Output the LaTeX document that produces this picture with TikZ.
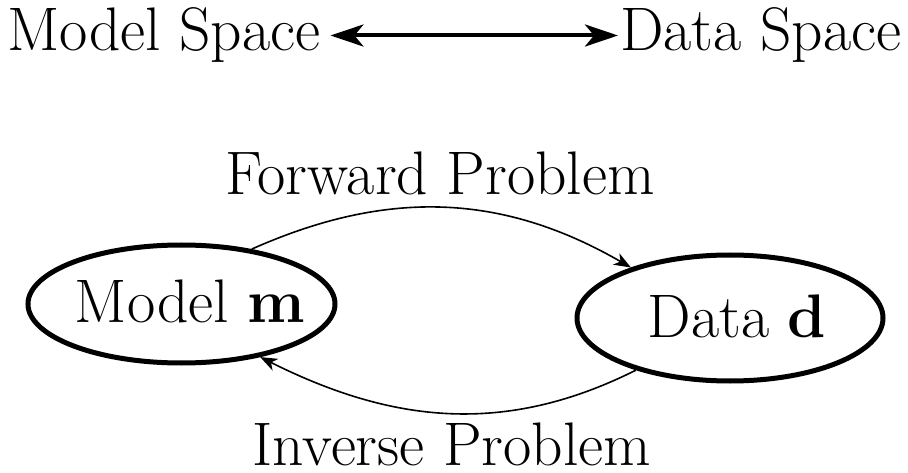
\documentclass[tikz,border=0pt]{standalone}
\usetikzlibrary{arrows.meta,shapes.geometric}
\begin{document}
\begin{tikzpicture}[x=1pt,y=1pt,
  txt/.style={font=\fontsize{61.5}{64}\selectfont, inner sep=0pt, outer sep=0pt},
  bubble/.style={draw, ellipse, line width=5pt, inner sep=0pt},
  flow/.style={line width=1.6pt, -{Stealth[length=17pt,width=13pt,inset=5pt]}},
  dual/.style={line width=4pt, {Stealth[length=33pt,width=22pt,inset=9pt]}-{Stealth[length=33pt,width=22pt,inset=9pt]}}]
\useasboundingbox (0,0) rectangle (908,472);
\node[txt, anchor=base west] (ms) at (7,421) {Model Space};
\node[txt, anchor=base west] (ds) at (620,421) {Data Space};
\draw[dual, shorten <=10pt, shorten >=2pt] (ms.east) -- (ds.west);
\node[bubble, minimum width=307pt, minimum height=118pt] (me) at (181.5,168) {};
\node[bubble, minimum width=306pt, minimum height=126pt] (de) at (730,154) {};
\node[txt, anchor=base] (ml) at (190,150) {Model \textbf{m}};
\node[txt, anchor=base] (dl) at (737,135) {Data \textbf{d}};
\node[txt, anchor=base] (fl) at (440,277) {Forward Problem};
\node[txt, anchor=base] (il) at (452,7) {Inverse Problem};
\draw[flow] (me.38.5) to[out=24,in=150] (de.153);
\draw[flow] (de.209.5) to[out=206.6,in=333.4] (me.326.5);
\end{tikzpicture}
\end{document}
